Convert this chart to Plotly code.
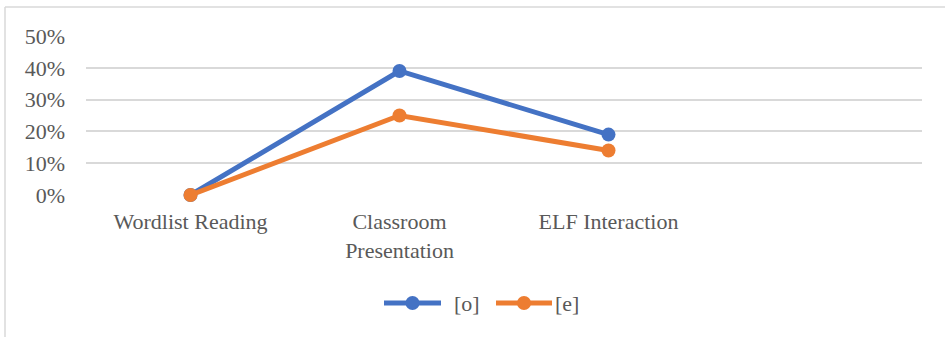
import plotly.graph_objects as go

# Categories and series values (share of tokens)
categories = ["Wordlist Reading", "Classroom<br>Presentation", "ELF Interaction", ""]
series_names = ["[o]", "[e]"]
o_values = [0.0, 0.39, 0.19]
e_values = [0.0, 0.25, 0.14]
y_ticks = [0, 0.1, 0.2, 0.3, 0.4, 0.5]

colors = ["#4472C4", "#ED7D31"]
font_family = "Liberation Serif"
text_color = "#595959"
grid_color = "#D9D9D9"

W, H = 945, 337
L, R, T, B = 86, 23, 36, 142
PW, PH = W - L - R, H - T - B


def px_x(px):
    return (px - L) / PW


def px_y(py):
    return (H - B - py) / PH


fig = go.Figure()
for name, vals, col in zip(series_names, [o_values, e_values], colors):
    fig.add_trace(go.Scatter(
        x=list(range(len(vals))),
        y=vals,
        name=name,
        mode="lines+markers",
        line=dict(color=col, width=5),
        marker=dict(color=col, size=14),
        cliponaxis=False,
        showlegend=False,
    ))

shapes = [
    # chart-area border (top and left edges)
    dict(type="line", xref="paper", yref="paper",
         x0=px_x(5), x1=px_x(W), y0=px_y(7), y1=px_y(7),
         line=dict(color=grid_color, width=1.5)),
    dict(type="line", xref="paper", yref="paper",
         x0=px_x(5), x1=px_x(5), y0=px_y(7), y1=px_y(H),
         line=dict(color=grid_color, width=1.5)),
]
annotations = []

# legend drawn below the plot: line + dot + label per series
legend_y = px_y(303)
legend_items = [(384, 441, 452), (496, 552, 553)]
for (lx0, lx1, tx), name, col in zip(legend_items, series_names, colors):
    shapes.append(dict(type="line", xref="paper", yref="paper",
                       x0=px_x(lx0), x1=px_x(lx1), y0=legend_y, y1=legend_y,
                       line=dict(color=col, width=5)))
    shapes.append(dict(type="circle", xref="paper", yref="paper",
                       xsizemode="pixel", ysizemode="pixel",
                       xanchor=px_x((lx0 + lx1) / 2), yanchor=legend_y,
                       x0=-7, x1=7, y0=-7, y1=7,
                       fillcolor=col, line=dict(color=col, width=0)))
    annotations.append(dict(xref="paper", yref="paper",
                            x=px_x(tx), y=legend_y, xanchor="left", yanchor="middle",
                            text=name, showarrow=False,
                            font=dict(family=font_family, size=22, color=text_color)))

fig.update_layout(
    width=W, height=H,
    margin=dict(l=L, r=R, t=T, b=B, pad=0),
    paper_bgcolor="white",
    plot_bgcolor="white",
    font=dict(family=font_family, size=22, color=text_color),
    showlegend=False,
    xaxis=dict(
        range=[-0.5, len(categories) - 0.5],
        tickmode="array",
        tickvals=list(range(len(categories))),
        ticktext=categories,
        tickfont=dict(family=font_family, size=22, color=text_color),
        showgrid=False,
        zeroline=False,
        showline=False,
        ticks="",
        ticklabelstandoff=11,
        fixedrange=True,
    ),
    yaxis=dict(
        range=[0, 0.5],
        tickmode="array",
        tickvals=y_ticks,
        tickformat=".0%",
        tickfont=dict(family=font_family, size=22, color=text_color),
        showgrid=True,
        gridcolor=grid_color,
        gridwidth=2,
        zeroline=False,
        showline=False,
        ticks="",
        ticklabelstandoff=20,
        fixedrange=True,
    ),
    shapes=shapes,
    annotations=annotations,
)

fig.write_html("out.html")
